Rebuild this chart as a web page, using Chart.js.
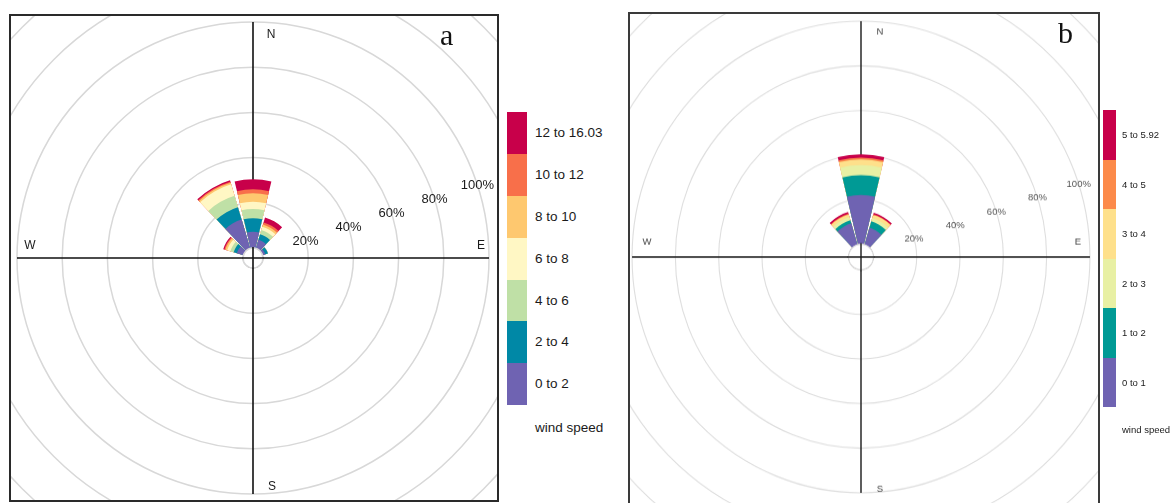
<!DOCTYPE html>
<html>
<head>
<meta charset="utf-8">
<script src="https://cdn.jsdelivr.net/npm/chart.js@4/dist/chart.umd.min.js"></script>
<style>
  html, body { margin: 0; padding: 0; background: #fff; }
  body { width: 1172px; height: 503px; position: relative; overflow: hidden;
         font-family: "Liberation Sans", Arial, sans-serif; color: #1a1a1a; }
  .frame { position: absolute; box-sizing: border-box; overflow: hidden; background: #fff; }
  .frame canvas { position: absolute; }
  #frameA { left: 9px; top: 14px; width: 490px; height: 488px; border: 2px solid #2a2a2a; }
  #frameB { left: 628px; top: 12px; width: 472px; height: 496px; border: 2px solid #3a3a3a; }
  #wrapB { position: absolute; width: 700px; height: 700px; transform-origin: 350px 350px; transform: scale(1, 1.03); }
  .tag { position: absolute; font-family: "Liberation Serif", "DejaVu Serif", serif; color: #111; }
  .legend { position: absolute; }
  .legend .row { position: relative; }
  .legend .sw { position: absolute; left: 0; top: 0; }
  .legend .lb { position: absolute; white-space: nowrap; }
  .legend .ttl { position: absolute; white-space: nowrap; }
</style>
</head>
<body>
<div class="frame" id="frameA"><canvas id="roseA" width="700" height="700" style="left:-108px;top:-108px;width:700px;height:700px"></canvas></div>
<div class="frame" id="frameB"><div id="wrapB" style="left:-119px;top:-107px"><canvas id="roseB" width="700" height="700" style="left:0;top:0;width:700px;height:700px"></canvas></div></div>
<div class="tag" style="left:440px;top:18px;font-size:30px">a</div>
<div class="tag" style="left:1058px;top:16px;font-size:30px">b</div>
<div class="legend" id="legA" style="left:507px;top:112px"></div>
<div class="legend" id="legB" style="left:1103px;top:110px"></div>

<script>
// Sector directions (degrees clockwise from north)
const directionDeg = [0, 30, 60, 90, 120, 150, 180, 210, 240, 270, 300, 330];

// Rings drawn on both roses (percent of observations)
const ringSteps = [0, 20, 40, 60, 80, 100, 120, 140];
const ringLabelValues = [20, 40, 60, 80, 100];
const ringLabels = ['20%', '40%', '60%', '80%', '100%'];

// Rose a: frequency (%) per direction for each wind speed bin
const speedBinsA = ['0 to 2', '2 to 4', '4 to 6', '6 to 8', '8 to 10', '10 to 12', '12 to 16.03'];
const a_0_2   = [7.2, 4.0, 1.2, 0, 0, 0, 0, 0, 0, 0, 3.0, 13.3];
const a_2_4   = [6.0, 2.5, 1.3, 0, 0, 0, 0, 0, 0, 0, 1.5, 5.7];
const a_4_6   = [4.1, 2.0, 0,   0, 0, 0, 0, 0, 0, 0, 1.5, 5.3];
const a_6_8   = [3.2, 1.5, 0,   0, 0, 0, 0, 0, 0, 0, 1.5, 5.3];
const a_8_10  = [3.7, 1.0, 0,   0, 0, 0, 0, 0, 0, 0, 0.8, 0.7];
const a_10_12 = [1.8, 1.0, 0,   0, 0, 0, 0, 0, 0, 0, 0.5, 0.5];
const a_12_16 = [4.4, 2.3, 0,   0, 0, 0, 0, 0, 0, 0, 0.5, 0.6];
const coloursA = ['#6f63b2', '#0088a6', '#bfe0a6', '#fff7c4', '#fec86f', '#f86f4a', '#c8004a'];

// Rose b: frequency (%) per direction for each wind speed bin
const speedBinsB = ['0 to 1', '1 to 2', '2 to 3', '3 to 4', '4 to 5', '5 to 5.92'];
const b_0_1 = [22.1, 8.0, 0, 0, 0, 0, 0, 0, 0, 0, 0, 10.0];
const b_1_2 = [8.9,  3.0, 0, 0, 0, 0, 0, 0, 0, 0, 0, 1.5];
const b_2_3 = [4.5,  1.5, 0, 0, 0, 0, 0, 0, 0, 0, 0, 1.5];
const b_3_4 = [2.5,  1.5, 0, 0, 0, 0, 0, 0, 0, 0, 0, 1.2];
const b_4_5 = [0.8,  0.3, 0, 0, 0, 0, 0, 0, 0, 0, 0, 0.3];
const b_5_6 = [1.5,  0.7, 0, 0, 0, 0, 0, 0, 0, 0, 0, 0.8];
const coloursB = ['#6f63b2', '#009a95', '#e8f0a4', '#fee08b', '#fc8a4a', '#c8004a'];

// Stack the bins: each dataset holds the running total, the largest drawn underneath.
// Each direction is followed by a narrow empty slot that leaves the gap between sectors.
function roseDatasets(series, colours) {
  const cum = new Array(series[0].length).fill(0);
  return series.map((s, k) => ({
    data: s.map((v, i) => (cum[i] += v)).flatMap(v => [v, null]),
    backgroundColor: colours[k],
    borderWidth: 0
  }));
}

const roseDecor = {
  id: 'roseDecor',
  beforeDatasetsDraw(chart, args, o) {
    const s = chart.scales.r, ctx = chart.ctx, cx = s.xCenter, cy = s.yCenter;
    const R = s.getDistanceFromCenterForValue(100);
    ctx.save();
    ctx.strokeStyle = o.axisColor;
    ctx.lineWidth = o.axisWidth;
    ctx.beginPath();
    ctx.moveTo(cx, cy - R); ctx.lineTo(cx, cy + R);
    ctx.moveTo(cx - R, cy); ctx.lineTo(cx + R, cy);
    ctx.stroke();
    ctx.restore();
  },
  afterDatasetsDraw(chart, args, o) {
    const s = chart.scales.r, ctx = chart.ctx, cx = s.xCenter, cy = s.yCenter;
    const r0 = s.getDistanceFromCenterForValue(0);
    ctx.save();
    // calm hole in the middle
    ctx.fillStyle = '#fff';
    ctx.beginPath(); ctx.arc(cx, cy, r0, 0, Math.PI * 2); ctx.fill();
    ctx.strokeStyle = o.ringColor; ctx.lineWidth = o.ringWidth; ctx.stroke();
    ctx.strokeStyle = o.axisColor; ctx.lineWidth = o.axisWidth;
    ctx.beginPath();
    ctx.moveTo(cx, cy - r0 - 1); ctx.lineTo(cx, cy + r0 + 1);
    ctx.moveTo(cx - r0 - 1, cy); ctx.lineTo(cx + r0 + 1, cy);
    ctx.stroke();
    // percentage labels along the rings
    ctx.font = o.ringFont;
    ctx.fillStyle = o.textColor;
    ctx.textAlign = 'center';
    ctx.textBaseline = 'middle';
    const a = o.labelAngle * Math.PI / 180;
    ringLabelValues.forEach((v, i) => {
      const r = s.getDistanceFromCenterForValue(v);
      ctx.fillText(ringLabels[i], cx + r * Math.sin(a), cy - r * Math.cos(a));
    });
    // compass points
    ctx.font = o.compassFont;
    ctx.fillStyle = o.compassColor;
    o.compass.forEach(c => ctx.fillText(c.t, cx + c.dx, cy + c.dy));
    ctx.restore();
  }
};

function makeRose(id, series, colours, geo) {
  return new Chart(document.getElementById(id), {
    type: 'polarArea',
    data: {
      labels: directionDeg.flatMap(d => [d + '°', '']),
      datasets: roseDatasets(series, colours)
    },
    options: {
      responsive: false,
      animation: false,
      events: [],
      layout: { padding: 0 },
      elements: { arc: { angle: c => (c.index % 2 === 0 ? 27 : 3), borderWidth: 0 } },
      plugins: { legend: { display: false }, tooltip: { enabled: false }, roseDecor: geo },
      scales: {
        r: {
          min: geo.min, max: geo.max,
          startAngle: -13.5,
          ticks: { display: false },
          pointLabels: { display: false },
          angleLines: { display: false },
          grid: { circular: true, color: geo.ringColor, lineWidth: geo.ringWidth },
          afterBuildTicks: sc => { sc.ticks = ringSteps.map(v => ({ value: v })); }
        }
      }
    },
    plugins: [roseDecor]
  });
}

makeRose('roseA', [a_0_2, a_2_4, a_4_6, a_6_8, a_8_10, a_10_12, a_12_16], coloursA, {
  min: -4.425, max: 150.44,
  ringColor: '#d8d8d8', ringWidth: 1.5, axisColor: '#111', axisWidth: 1.6,
  ringFont: '13px "Liberation Sans", Arial, sans-serif', textColor: '#1a1a1a', labelAngle: 72,
  compassFont: '12px "Liberation Sans", Arial, sans-serif', compassColor: '#1a1a1a',
  compass: [{ t: 'N', dx: 18, dy: -223 }, { t: 'S', dx: 19, dy: 229 }, { t: 'E', dx: 228, dy: -12 }, { t: 'W', dx: -223, dy: -12 }]
});

makeRose('roseB', [b_0_1, b_1_2, b_2_3, b_3_4, b_4_5, b_5_6], coloursB, {
  min: -5.72, max: 155.9,
  ringColor: '#dedede', ringWidth: 1.1, axisColor: '#1a1a1a', axisWidth: 1.4,
  ringFont: '9.5px "Liberation Sans", Arial, sans-serif', textColor: '#555', labelAngle: 72,
  compassFont: '9.5px "Liberation Sans", Arial, sans-serif', compassColor: '#444',
  compass: [{ t: 'N', dx: 19, dy: -219 }, { t: 'S', dx: 19, dy: 225 }, { t: 'E', dx: 217, dy: -14.5 }, { t: 'W', dx: -214, dy: -14.5 }]
});

// Colour-key legends, highest speed bin on top
function buildLegend(id, bins, colours, sw, rowH, fontPx, labelX, titleY) {
  const el = document.getElementById(id);
  for (let k = bins.length - 1; k >= 0; k--) {
    const row = document.createElement('div');
    row.className = 'row';
    row.style.height = rowH + 'px';
    row.innerHTML = '<div class="sw" style="width:' + sw + 'px;height:' + rowH + 'px;background:' + colours[k] + '"></div>' +
      '<div class="lb" style="left:' + labelX + 'px;top:0;line-height:' + rowH + 'px;font-size:' + fontPx + 'px">' + bins[k] + '</div>';
    el.appendChild(row);
  }
  const t = document.createElement('div');
  t.className = 'ttl';
  t.style.cssText = 'left:' + labelX + 'px;top:' + titleY + 'px;font-size:' + fontPx + 'px';
  t.textContent = 'wind speed';
  el.appendChild(t);
}
buildLegend('legA', speedBinsA, coloursA, 20, 41.9, 13.5, 28, 308);
buildLegend('legB', speedBinsB, coloursB, 13, 49.5, 9.5, 19, 314);
</script>
</body>
</html>
